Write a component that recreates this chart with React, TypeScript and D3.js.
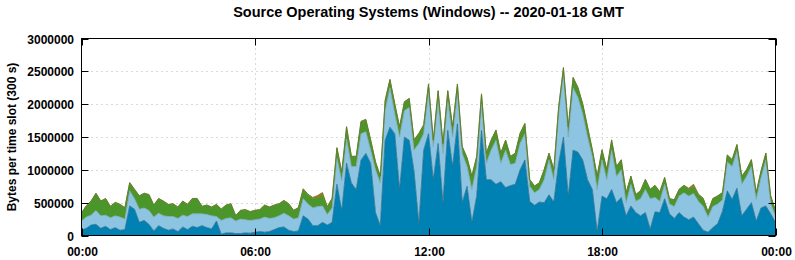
import React from 'react';
import * as d3 from 'd3';

// Bytes per 300 s slot, in thousands, read at 10 min steps from 00:00 to 24:00
const darkBlue = [
  80, 110, 160, 170, 110, 140, 90, 120, 80, 90, 450, 400,
  200, 230, 170, 70, 150, 110, 80, 100, 60, 130, 90, 140,
  120, 150, 120, 100, 220, 20, 40, 40, 30, 30, 40, 35,
  50, 60, 50, 60, 90, 120, 130, 80, 60, 70, 300, 250,
  150, 150, 200, 160, 200, 780, 380, 1100, 800, 700, 1150, 1250,
  1100, 350, 150, 1450, 1650, 1550, 700, 1500, 1450, 980, 180, 1300,
  1550, 850, 1400, 500, 1600, 1050, 1700, 500, 750, 200, 600, 1600,
  850, 850, 780, 820, 730, 760, 780, 1000, 1150, 520, 460, 510,
  500, 620, 510, 1100, 1500, 600, 1300, 1270, 1150, 850, 700, 60,
  600, 560, 700, 500, 580, 300, 450, 350, 300, 350, 100, 360,
  350, 560, 330, 260, 350, 280, 240, 280, 180, 80, 50, 120,
  180, 370, 680, 550, 720, 300, 400, 500, 220, 420, 450, 330,
  200,
];
const lightBlue = [
  140, 170, 150, 210, 190, 170, 180, 180, 200, 160, 230, 160,
  200, 190, 210, 210, 190, 190, 210, 190, 200, 180, 200, 190,
  210, 180, 200, 200, 70, 210, 220, 230, 190, 220, 200, 195,
  190, 190, 230, 200, 180, 180, 210, 220, 190, 200, 260, 230,
  270, 290, 250, 160, 220, 400, 450, 370, 250, 350, 400, 330,
  200, 650, 650, 450, 600, 300, 800, 400, 500, 320, 1220, 250,
  630, 500, 650, 750, 450, 450, 450, 750, 300, 500, 450, 400,
  250, 450, 670, 280, 570, 320, 320, 400, 400, 230, 190, 190,
  350, 530, 340, 750, 950, 900, 950, 830, 700, 650, 500, 640,
  550, 290, 600, 400, 420, 200, 330, 170, 260, 350, 460, 220,
  170, 220, 150, 180, 250, 370, 360, 360, 340, 360, 230, 320,
  300, 170, 440, 500, 560, 480, 500, 550, 330, 460, 700, 150,
  100,
];
const green = [
  120, 170, 210, 260, 220, 250, 170, 200, 190, 170, 120, 140,
  200, 220, 240, 180, 220, 220, 180, 190, 170, 210, 180, 230,
  230, 110, 140, 130, 180, 170, 200, 210, 80, 130, 150, 130,
  140, 140, 180, 170, 190, 180, 190, 180, 130, 150, 140, 140,
  140, 140, 170, 110, 140, 150, 130, 180, 150, 150, 180, 180,
  150, 120, 100, 150, 120, 150, 150, 130, 130, 150, 150, 130,
  120, 100, 150, 150, 150, 150, 150, 100, 130, 200, 150, 150,
  150, 150, 150, 150, 150, 120, 150, 150, 150, 100, 100, 100,
  150, 100, 150, 100, 100, 150, 150, 150, 150, 150, 100, 200,
  150, 150, 150, 150, 150, 150, 120, 100, 120, 150, 140, 180,
  140, 100, 80, 100, 100, 110, 100, 110, 100, 120, 77, 120,
  120, 110, 100, 100, 100, 120, 100, 100, 100, 100, 100, 120,
  80,
];
const orange = [
  5, 5, 8, 5, 5, 5, 5, 5, 5, 5, 8, 5,
  5, 5, 5, 5, 5, 5, 5, 5, 5, 5, 5, 5,
  5, 5, 5, 5, 5, 5, 5, 5, 5, 5, 5, 5,
  5, 5, 5, 5, 5, 5, 5, 5, 5, 5, 12, 8,
  20, 30, 35, 12, 8, 10, 8, 10, 8, 8, 10, 10,
  8, 5, 5, 10, 10, 10, 8, 10, 10, 8, 8, 8,
  10, 8, 8, 5, 8, 8, 8, 5, 5, 5, 8, 8,
  5, 5, 8, 5, 5, 5, 5, 8, 8, 5, 5, 5,
  5, 5, 5, 8, 10, 8, 10, 8, 8, 8, 5, 5,
  8, 5, 8, 5, 5, 5, 5, 5, 5, 5, 5, 5,
  5, 5, 5, 5, 5, 5, 20, 30, 12, 8, 8, 5,
  5, 5, 8, 8, 8, 5, 5, 8, 5, 5, 8, 5,
  5,
];

const yTicks = [0, 500000, 1000000, 1500000, 2000000, 2500000, 3000000];
const xTickHours = [0, 6, 12, 18, 24];
const xTickLabels = ['00:00', '06:00', '12:00', '18:00', '00:00'];

const keys = ['dark', 'light', 'green', 'orange'];
const fills = { dark: '#0081b3', light: '#8cc4e2', green: '#4b962b', orange: '#c8641e' };
const strokes = { dark: '#2a6f8c', light: '#7fa9bd', green: '#5c8a2c', orange: '#5f7a26' };

const W = 795;
const H = 260;
const left = 81.5;
const right = 775.5;
const top = 38.5;
const bottom = 235.5;

const font = '"Liberation Sans", Arial, Helvetica, sans-serif';

export default function App() {
  const rows = darkBlue.map((v, i) => ({
    t: i / 6,
    dark: v * 1000,
    light: lightBlue[i] * 1000,
    green: green[i] * 1000,
    orange: orange[i] * 1000,
  }));

  const x = d3.scaleLinear().domain([0, 24]).range([left, right]);
  const y = d3.scaleLinear().domain([0, 3000000]).range([bottom, top]);

  const series = d3.stack().keys(keys)(rows as any);

  const area = d3
    .area<any>()
    .x((d) => x(d.data.t))
    .y0((d) => y(d[0]))
    .y1((d) => y(d[1]));

  const line = d3
    .line<any>()
    .x((d) => x(d.data.t))
    .y((d) => y(d[1]));

  return (
    <svg
      width={W}
      height={H}
      style={{ position: 'absolute', left: 0, top: 0, background: '#fff' }}
      fontFamily={font}
    >
      <rect x={0} y={0} width={W} height={H} fill="#fff" />

      {/* grid */}
      {yTicks.slice(1, -1).map((v) => (
        <line
          key={'gy' + v}
          x1={left}
          x2={right}
          y1={Math.round(y(v)) + 0.5}
          y2={Math.round(y(v)) + 0.5}
          stroke="#b4b4b4"
          strokeDasharray="1,4"
        />
      ))}
      {xTickHours.slice(1, -1).map((h) => (
        <line
          key={'gx' + h}
          x1={Math.round(x(h)) + 0.5}
          x2={Math.round(x(h)) + 0.5}
          y1={top}
          y2={bottom}
          stroke="#b4b4b4"
          strokeDasharray="1,4"
        />
      ))}

      {/* stacked areas */}
      {series.map((s) => (
        <path key={s.key} d={area(s) || ''} fill={fills[s.key]} />
      ))}
      {series.map((s) => (
        <path key={'l' + s.key} d={line(s) || ''} fill="none" stroke={strokes[s.key]} strokeWidth={0.8} />
      ))}

      {/* ticks */}
      {yTicks.map((v) => {
        const yy = Math.round(y(v)) + 0.5;
        return (
          <g key={'ty' + v}>
            <line x1={left} x2={left + 7} y1={yy} y2={yy} stroke="#000" />
            <line x1={right - 7} x2={right} y1={yy} y2={yy} stroke="#000" />
            <text
              x={74}
              y={yy}
              textAnchor="end"
              dominantBaseline="central"
              fontSize={12}
              fontWeight="bold"
            >
              {v}
            </text>
          </g>
        );
      })}
      {xTickHours.map((h, i) => {
        const xx = Math.round(x(h)) + 0.5;
        return (
          <g key={'tx' + i}>
            <line x1={xx} x2={xx} y1={top} y2={top + 7} stroke="#000" />
            <line x1={xx} x2={xx} y1={bottom - 7} y2={bottom} stroke="#000" />
            <text x={xx} y={252} textAnchor="middle" dominantBaseline="central" fontSize={12} fontWeight="bold">
              {xTickLabels[i]}
            </text>
          </g>
        );
      })}

      {/* border */}
      <rect x={left} y={top} width={right - left} height={bottom - top} fill="none" stroke="#000" />

      {/* titles */}
      <text x={(left + right) / 2} y={12} textAnchor="middle" dominantBaseline="central" fontSize={14.5} fontWeight="bold">
        Source Operating Systems (Windows) -- 2020-01-18 GMT
      </text>
      <text
        transform={`translate(12, ${(top + bottom) / 2}) rotate(-90)`}
        textAnchor="middle"
        dominantBaseline="central"
        fontSize={12}
        fontWeight="bold"
      >
        Bytes per time slot (300 s)
      </text>
    </svg>
  );
}
